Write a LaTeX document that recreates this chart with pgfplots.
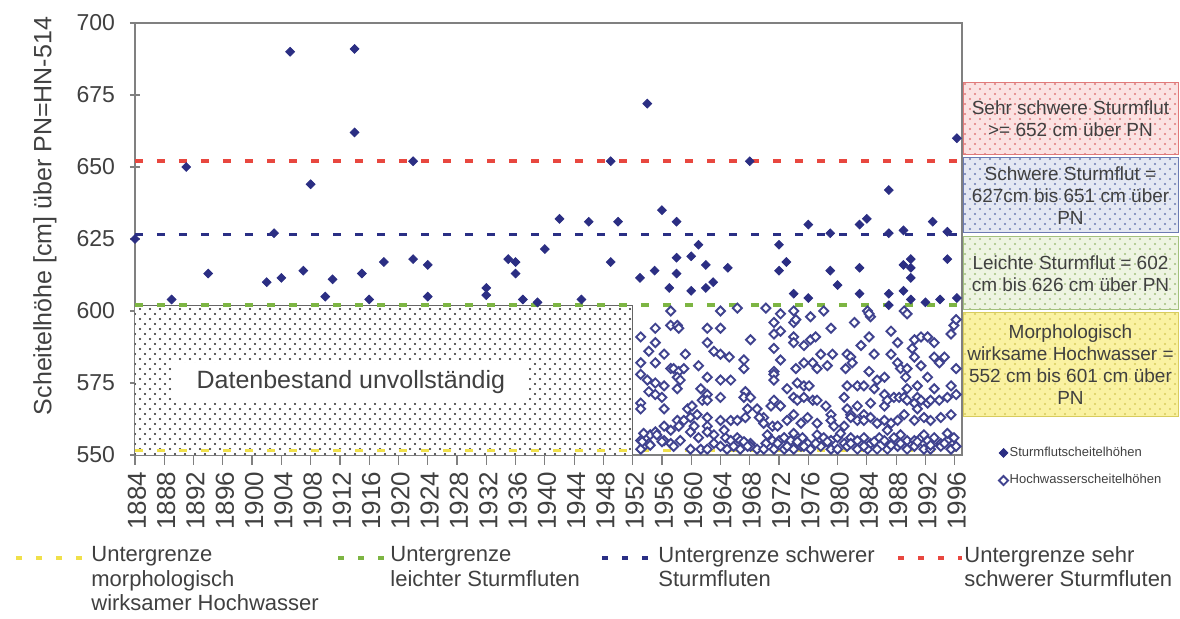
\documentclass[border=0pt]{standalone}
\usepackage{pgfplots}
\pgfplotsset{compat=1.18}
\usepackage{fontspec}
\setmainfont{Liberation Sans}
\usetikzlibrary{patterns}
\definecolor{navy}{HTML}{2B2E83}
\definecolor{redl}{HTML}{E8473F}
\definecolor{bluel}{HTML}{2A2F85}
\definecolor{greenl}{HTML}{7DB543}
\definecolor{yellowl}{HTML}{F0E04A}
\definecolor{txt}{HTML}{404040}
\definecolor{axgray}{HTML}{808080}
\definecolor{pinkbg}{HTML}{FBE2E2}
\definecolor{pinkdot}{HTML}{E07A7A}
\definecolor{bluebg}{HTML}{E4E8F3}
\definecolor{bluedot}{HTML}{6C7BB2}
\definecolor{greenbg}{HTML}{EEF4E2}
\definecolor{greendot}{HTML}{A3C07E}
\definecolor{yellowbg}{HTML}{FAF2A2}
\definecolor{yellowdot}{HTML}{D8CC5E}
\pgfdeclarepatternformonly{mydots}{\pgfqpoint{-1pt}{-1pt}}{\pgfqpoint{3.5pt}{3.5pt}}{\pgfqpoint{5pt}{5pt}}{%
  \pgfpathcircle{\pgfqpoint{0pt}{0pt}}{0.55pt}%
  \pgfpathcircle{\pgfqpoint{2.5pt}{2.5pt}}{0.55pt}%
  \pgfusepath{fill}}
\begin{document}
\begin{tikzpicture}
\useasboundingbox (0,0) rectangle (590pt,309.5pt);
\begin{axis}[
  at={(67.5pt,82pt)}, anchor=south west,
  width=413.5pt, height=216pt, scale only axis,
  xmin=1884, xmax=1997, ymin=550, ymax=700,
  xtick={1884,1888,...,1996},
  minor x tick num=3,
  ytick={550,575,...,700},
  xtick pos=bottom, ytick pos=left,
  axis line style={axgray, line width=0.8pt},
  tick style={axgray, line width=0.6pt},
  xtick align=outside, ytick align=center,
  major tick length=5pt, minor tick length=4pt,
  xticklabel style={rotate=90, anchor=east, font=\fontsize{13}{13}\selectfont, text=txt, yshift=-1pt},
  yticklabel style={font=\fontsize{11.5}{12}\selectfont, text=txt, xshift=-4pt},
  /pgf/number format/assume math mode=true,
  /pgf/number format/1000 sep={},
  clip=false,
  legend style={at={(rel axis cs:1.037,0.033)}, anchor=north west, draw=none, fill=none,
    font=\fontsize{6.5}{7.5}\selectfont, text=txt, row sep=6pt,
    nodes={inner sep=0.8pt}},
  legend image code/.code={\draw[mark repeat=2,mark phase=2,#1] plot coordinates {(0cm,0cm)(0.1cm,0cm)(0.2cm,0cm)};},
  legend cell align=left,
  reverse legend,
]
% Hatched incomplete data region
\fill[white] (axis cs:1884,550) rectangle (axis cs:1952,602);
\path[pattern=mydots, pattern color=black!85] (axis cs:1884,550) rectangle (axis cs:1952,602);
\draw[black!60, line width=0.5pt] (axis cs:1884,602) -- (axis cs:1952,602) -- (axis cs:1952,550);
\node[fill=white, minimum width=178pt, minimum height=19.5pt, inner sep=0pt, text=txt, font=\fontsize{12.5}{13}\selectfont]
  at (axis cs:1913.5,575.3) {Datenbestand unvollständig};
% Threshold lines
\addplot[yellowl, line width=1.8pt, dash pattern=on 4pt off 7pt, forget plot] coordinates {(1884,551.5) (1997,551.5)};
\addplot[greenl, line width=1.8pt, dash pattern=on 4pt off 7pt, forget plot] coordinates {(1884,602) (1997,602)};
\addplot[bluel, line width=1.8pt, dash pattern=on 4pt off 7pt, forget plot] coordinates {(1884,626.5) (1997,626.5)};
\addplot[redl, line width=1.8pt, dash pattern=on 4pt off 7pt, forget plot] coordinates {(1884,652) (1997,652)};
% Hochwasserscheitelhoehen (open diamonds)
\addplot[only marks, mark=square*, mark size=1.6pt, mark options={rotate=45, draw=navy!90, fill=white, line width=0.95pt}] coordinates {
(1957.2,600) (1964.0,600) (1966.3,601) (1970.2,601) (1972.2,599) (1974.0,600) (1976.3,598) (1978.1,600) (1984.1,600) (1984.5,598) (1989.1,600) (1989.5,599)
(1955.1,594) (1957.2,595) (1958.1,595) (1958.3,594) (1962.2,594) (1964.0,594) (1971.3,596) (1974.0,596) (1974.3,597) (1982.3,596) (1984.3,599) (1987.3,593) (1995.9,595) (1996.2,597)
(1953.1,591) (1955.1,589) (1962.2,589) (1968.1,590) (1971.3,592) (1972.2,593) (1974.0,591) (1974.0,589) (1976.3,590) (1977.0,591) (1979.1,594) (1983.2,588) (1984.3,591) (1988.2,589) (1990.5,590) (1991.4,591) (1992.3,591) (1993.2,589) (1995.5,592)
(1954.2,586) (1956.3,585) (1959.2,585) (1963.1,586) (1964.0,585) (1965.2,584) (1967.2,583) (1971.3,587) (1975.4,588) (1977.7,585) (1979.3,585) (1981.3,585) (1981.8,584) (1985.0,585) (1987.3,585) (1990.2,587) (1990.5,584) (1993.2,584) (1994.6,584)
(1953.1,582) (1955.1,582) (1957.2,580) (1957.6,580) (1958.3,579) (1959.0,580) (1961.0,581) (1962.2,577) (1967.2,580) (1971.3,579) (1972.2,583) (1974.3,580) (1975.4,582) (1976.6,582) (1977.2,580) (1978.6,581) (1981.1,580) (1982.0,582) (1984.3,579) (1985.4,576) (1986.4,577) (1988.2,582) (1988.6,580) (1989.5,580) (1991.4,581) (1993.9,582) (1996.2,580)
(1953.1,578) (1954.0,576) (1955.1,575) (1956.3,574) (1958.1,577) (1958.1,573) (1958.5,576) (1961.3,573) (1962.2,571) (1964.0,576) (1965.4,576) (1967.4,572) (1971.3,578) (1971.3,576) (1973.1,573) (1974.5,575) (1975.4,574) (1976.1,574) (1976.6,569) (1981.3,574) (1982.7,574) (1983.6,574) (1985.0,573) (1986.4,571) (1989.3,577) (1989.5,573) (1990.9,574) (1992.3,577) (1993.2,573) (1995.5,574)
(1953.1,568) (1953.1,566) (1954.2,572) (1955.1,571) (1956.0,570) (1956.3,566) (1959.5,566) (1960.1,567) (1961.5,569) (1962.2,569) (1964.0,570) (1967.2,570) (1968.1,570) (1967.7,566) (1969.0,566) (1969.9,563) (1970.9,567) (1971.3,569) (1972.2,567) (1974.0,570) (1974.5,569) (1975.4,570) (1977.2,569) (1978.4,567) (1979.1,564) (1980.9,570) (1981.3,566) (1981.8,564) (1982.7,567) (1983.6,564) (1984.5,568) (1986.4,567) (1986.8,569) (1987.7,570) (1988.4,570) (1989.1,570) (1989.5,569) (1990.5,568) (1990.9,570) (1991.4,569) (1992.3,568) (1992.7,569) (1993.9,569) (1995.0,570) (1996.2,571)
(1954.4,557) (1955.1,558) (1956.3,560) (1958.1,562) (1958.3,560) (1959.0,562) (1959.9,563) (1960.4,560) (1960.8,564) (1962.2,563) (1962.2,560) (1964.0,562) (1965.4,562) (1966.3,562) (1967.4,563) (1969.3,563) (1969.9,561) (1971.1,560) (1971.8,560) (1973.1,562) (1974.0,564) (1975.0,561) (1975.9,563) (1977.2,561) (1979.1,562) (1979.5,560) (1980.9,560) (1981.8,563) (1982.7,562) (1983.6,562) (1984.5,563) (1985.4,561) (1986.4,562) (1987.3,561) (1988.2,562) (1989.1,564) (1990.5,562) (1990.9,566) (1991.8,563) (1992.7,562) (1994.1,563) (1995.5,564)
(1953.1,555) (1953.5,553) (1954.2,554) (1955.3,557) (1956.3,555) (1957.2,554) (1958.5,555) (1959.9,558) (1961.0,556) (1962.2,558) (1963.1,557) (1964.7,556) (1965.4,555) (1966.3,556) (1966.7,555) (1967.4,554) (1968.1,554) (1970.2,554) (1971.1,555) (1972.0,555) (1972.7,556) (1973.6,555) (1974.5,556) (1975.2,556) (1975.9,554) (1977.2,557) (1978.1,556) (1979.1,555) (1980.0,556) (1980.9,554) (1981.8,556) (1982.7,555) (1983.6,556) (1984.5,554) (1985.7,556) (1986.4,555) (1987.7,556) (1988.6,557) (1989.5,555) (1990.5,555) (1991.4,556) (1991.8,554) (1992.3,555) (1993.2,556) (1994.1,554) (1995.0,555) (1995.9,556)
(1953.1,552) (1959.9,552) (1961.3,552) (1962.2,552) (1964.9,552) (1965.8,553) (1966.7,552) (1968.1,553) (1969.0,552) (1969.9,552) (1971.3,552) (1972.7,552) (1974.0,552) (1975.0,553) (1976.3,552) (1977.7,553) (1979.1,552) (1980.0,552) (1981.3,553) (1982.7,552) (1984.1,552) (1985.4,552) (1986.8,552) (1988.2,553) (1989.5,552) (1990.5,553) (1991.8,552) (1992.7,552) (1994.1,553) (1995.5,552)
(1953.3,554.6) (1954.4,553.4) (1956.0,554.6) (1957.6,553) (1963.1,554) (1964.0,553) (1967.2,554.6) (1967.7,553) (1971.8,554) (1973.1,553) (1974.5,554.6) (1975.4,553) (1977.0,554) (1978.6,554.6) (1981.8,554) (1983.6,553) (1985.0,554.6) (1987.3,553.4) (1988.6,554) (1990.9,554.6) (1992.7,553.4) (1994.6,554) (1996.2,553)
(1953.5,557.5) (1957.2,558.6) (1964.5,558.6) (1970.4,557) (1974.0,557.5) (1980.4,557.5) (1986.8,558.6) (1991.8,557) (1995.0,557.5)
};
\addlegendentry{Hochwasserscheitelhöhen}
% Sturmflutscheitelhoehen (filled diamonds)
\addplot[only marks, mark=square*, mark size=1.55pt, mark options={rotate=45, draw=navy, fill=navy}] coordinates {
(1884,625) (1889,604) (1891,650) (1894,613) (1902,610) (1903,627) (1904,611.5) (1905.2,690) (1907,614) (1908,644)
(1910,605) (1911,611) (1914,691) (1914,662) (1915,613) (1916,604) (1918,617) (1922,652) (1922,618) (1924,616)
(1924,605) (1932,608) (1932,605.5) (1935,618) (1936,617) (1936,613) (1937,604) (1939,603) (1940,621.5) (1942,632)
(1945,604) (1946,631) (1949,652) (1949,617) (1950,631) (1953,611.5) (1954,672) (1955,614) (1956,635) (1957,608)
(1958,631) (1958,618.5) (1958,613) (1960,619) (1960,607) (1961,623) (1962,616) (1962,608) (1963,610) (1965,615)
(1968,652) (1972,623) (1972,614) (1973,617) (1974,606) (1976,630) (1976,604.5) (1979,627) (1979,614) (1980,609)
(1983,630) (1983,615) (1983,606) (1984,632) (1987,642) (1987,627) (1987,606) (1987,602) (1989,628) (1989,616)
(1989,607) (1990,618) (1990,615) (1990,611.5) (1990,604) (1992,603) (1993,631) (1994,604) (1995,627.5) (1995,618)
(1996.3,660) (1996.3,604.5)
};
\addlegendentry{Sturmflutscheitelhöhen}
\end{axis}
% y label
\node[rotate=90, text=txt, font=\fontsize{12.5}{13}\selectfont] at (22.5pt,201.5pt) {Scheitelhöhe [cm] über PN=HN-514};
% Right-side category boxes
\begin{scope}[font=\fontsize{9.5}{11}\selectfont, text=txt]
\fill[pinkbg] (481.5pt,232pt) rectangle (589pt,268pt);
\path[pattern=mydots, pattern color=pinkdot] (481.5pt,232pt) rectangle (589pt,268pt);
\draw[pinkdot, line width=0.5pt] (481.5pt,232pt) rectangle (589pt,268pt);
\node[align=center] at (535.25pt,250pt) {Sehr schwere Sturmflut\\>= 652 cm über PN};
\fill[bluebg] (481.5pt,193pt) rectangle (589pt,230.5pt);
\path[pattern=mydots, pattern color=bluedot] (481.5pt,193pt) rectangle (589pt,230.5pt);
\draw[bluedot, line width=0.5pt] (481.5pt,193pt) rectangle (589pt,230.5pt);
\node[align=center] at (535.25pt,211.75pt) {Schwere Sturmflut =\\627cm bis 651 cm über\\PN};
\fill[greenbg] (481.5pt,154.5pt) rectangle (589pt,191pt);
\path[pattern=mydots, pattern color=greendot] (481.5pt,154.5pt) rectangle (589pt,191pt);
\draw[greendot, line width=0.5pt] (481.5pt,154.5pt) rectangle (589pt,191pt);
\node[align=center] at (535.25pt,172.75pt) {Leichte Sturmflut = 602\\cm bis 626 cm über PN};
\fill[yellowbg] (481.5pt,101pt) rectangle (589pt,153pt);
\path[pattern=mydots, pattern color=yellowdot] (481.5pt,101pt) rectangle (589pt,153pt);
\draw[yellowdot, line width=0.5pt] (481.5pt,101pt) rectangle (589pt,153pt);
\node[align=center] at (535.25pt,127pt) {Morphologisch\\wirksame Hochwasser =\\552 cm bis 601 cm über\\PN};
\end{scope}
% Line legend
\begin{scope}[font=\fontsize{11}{12.25}\selectfont, text=txt]
\draw[yellowl, line width=1.8pt, dash pattern=on 3pt off 7pt] (8pt,30.5pt) -- (42pt,30.5pt);
\node[anchor=north west, align=left, inner sep=0pt] at (45.5pt,36.5pt) {Untergrenze\\morphologisch\\wirksamer Hochwasser};
\draw[greenl, line width=1.8pt, dash pattern=on 3pt off 7pt] (169pt,30.5pt) -- (193pt,30.5pt);
\node[anchor=north west, align=left, inner sep=0pt] at (195pt,36.5pt) {Untergrenze\\leichter Sturmfluten};
\draw[bluel, line width=1.8pt, dash pattern=on 3pt off 7pt] (301pt,30.5pt) -- (327pt,30.5pt);
\node[anchor=north west, align=left, inner sep=0pt] at (329pt,36.5pt) {Untergrenze schwerer\\Sturmfluten};
\draw[redl, line width=1.8pt, dash pattern=on 3pt off 7pt] (449pt,30.5pt) -- (481pt,30.5pt);
\node[anchor=north west, align=left, inner sep=0pt] at (482pt,36.5pt) {Untergrenze sehr\\schwerer Sturmfluten};
\end{scope}
\end{tikzpicture}
\end{document}
